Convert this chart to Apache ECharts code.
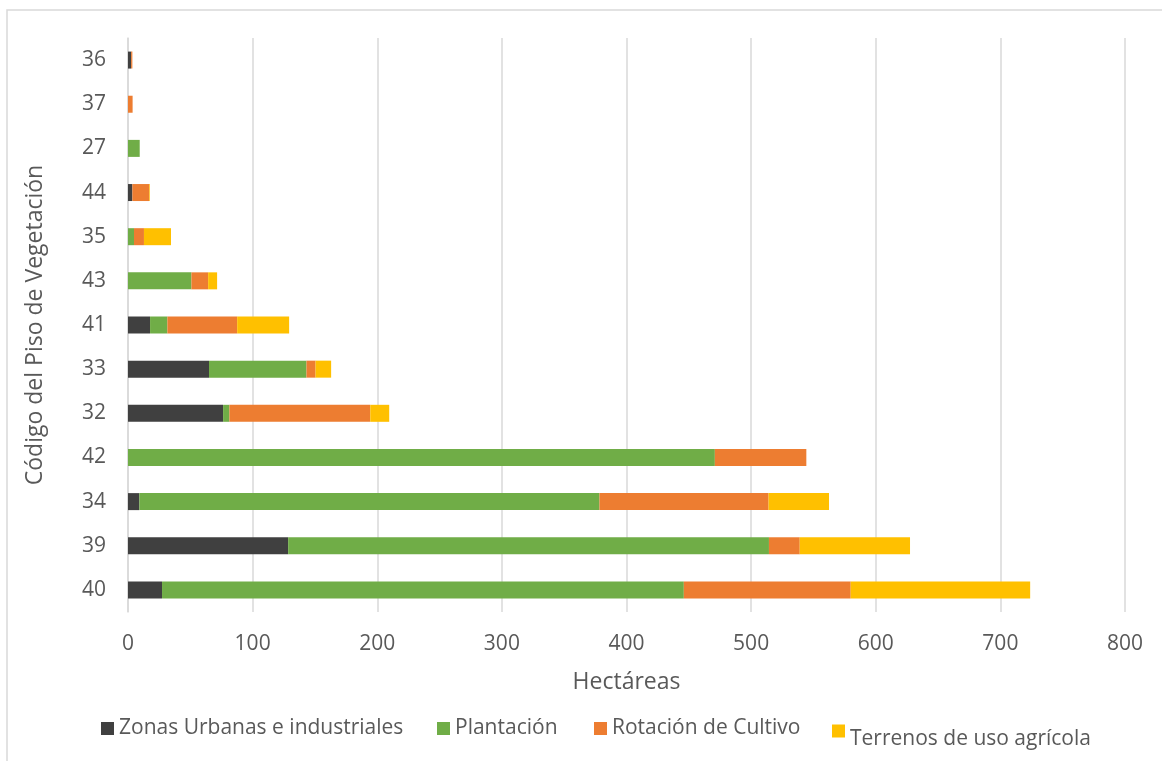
<!DOCTYPE html>
<html>
<head>
<meta charset="utf-8">
<script src="https://cdn.jsdelivr.net/npm/echarts@6/dist/echarts.min.js"></script>
<style>
  html, body { margin: 0; padding: 0; background: #fff; }
  #chart { width: 1162px; height: 761px; }
</style>
</head>
<body>
<div id="chart"></div>
<script>
// Vegetation floor codes, top to bottom
const categories = ['36', '37', '27', '44', '35', '43', '41', '33', '32', '42', '34', '39', '40'];

// Hectares per land-use class
const zonasUrbanas = [2.5, 0, 0, 3.5, 0, 0, 17.7, 65, 76.3, 0, 9.1, 128.5, 27.3];
const plantacion   = [0, 0, 9.4, 0, 4.8, 50.9, 13.9, 78.2, 5.1, 470.9, 369.2, 385.8, 418.7];
const rotacion     = [1, 3.7, 0, 13.6, 8, 13.4, 56, 7.3, 113, 73.4, 135.7, 24.7, 133.9];
const terrenos     = [0, 0, 0, 0.5, 21.7, 7.2, 41.7, 12.5, 15.2, 0, 48.5, 88.5, 144];

const seriesNames = ['Zonas Urbanas e industriales', 'Plantación', 'Rotación de Cultivo', 'Terrenos de uso agrícola'];
const seriesColors = ['#404040', '#70AD47', '#ED7D31', '#FFC000'];
const seriesData = [zonasUrbanas, plantacion, rotacion, terrenos];

const FONT = 'Open Sans';
const TEXT = '#595959';

const chart = echarts.init(document.getElementById('chart'), null, { renderer: 'canvas' });

function legendAt(name, left, top, extra) {
  return Object.assign({
    data: [name],
    left: left,
    top: top,
    padding: 0,
    itemWidth: 13,
    itemHeight: 13,
    itemGap: 0,
    icon: 'rect',
    textStyle: {
      fontFamily: FONT,
      fontSize: 21,
      color: TEXT,
      lineHeight: 24
    }
  }, extra || {});
}

chart.setOption({
  animation: false,
  backgroundColor: '#fff',
  graphic: [{
    type: 'rect',
    shape: { x: 7, y: 10, width: 1170, height: 800 },
    style: { fill: 'none', stroke: '#d9d9d9', lineWidth: 1.5 },
    silent: true
  }],
  grid: { left: 128, right: 37, top: 38, bottom: 149 },
  legend: [
    legendAt(seriesNames[0], 101, 716.5),
    legendAt(seriesNames[1], 437, 716.5),
    legendAt(seriesNames[2], 594, 716.5),
    // last entry sits its label a line lower than its swatch
    legendAt(seriesNames[3], 832, 712.5, {
      formatter: '\n{name}',
      textStyle: { fontFamily: FONT, fontSize: 21, color: TEXT, lineHeight: 16 }
    })
  ],
  xAxis: {
    type: 'value',
    min: 0,
    max: 800,
    interval: 100,
    name: 'Hectáreas',
    nameLocation: 'middle',
    nameGap: 59,
    nameTextStyle: { fontFamily: FONT, fontSize: 23, color: TEXT },
    axisLine: { show: false },
    axisTick: { show: false },
    axisLabel: { fontFamily: FONT, fontSize: 21, color: TEXT, margin: 22 },
    splitLine: { lineStyle: { color: '#d9d9d9', width: 1.5 } }
  },
  yAxis: {
    type: 'category',
    data: categories,
    inverse: true,
    name: 'Código del Piso de Vegetación',
    nameLocation: 'middle',
    nameGap: 81,
    nameRotate: 90,
    nameTextStyle: { fontFamily: FONT, fontSize: 23, color: TEXT },
    axisLine: { show: true, lineStyle: { color: '#d9d9d9', width: 1.5 } },
    axisTick: { show: false },
    axisLabel: { fontFamily: FONT, fontSize: 21, color: TEXT, margin: 22 },
    splitLine: { show: false }
  },
  series: seriesNames.map((name, i) => ({
    name: name,
    type: 'bar',
    stack: 'total',
    barWidth: 17,
    data: seriesData[i],
    itemStyle: { color: seriesColors[i] }
  }))
});
</script>
</body>
</html>
